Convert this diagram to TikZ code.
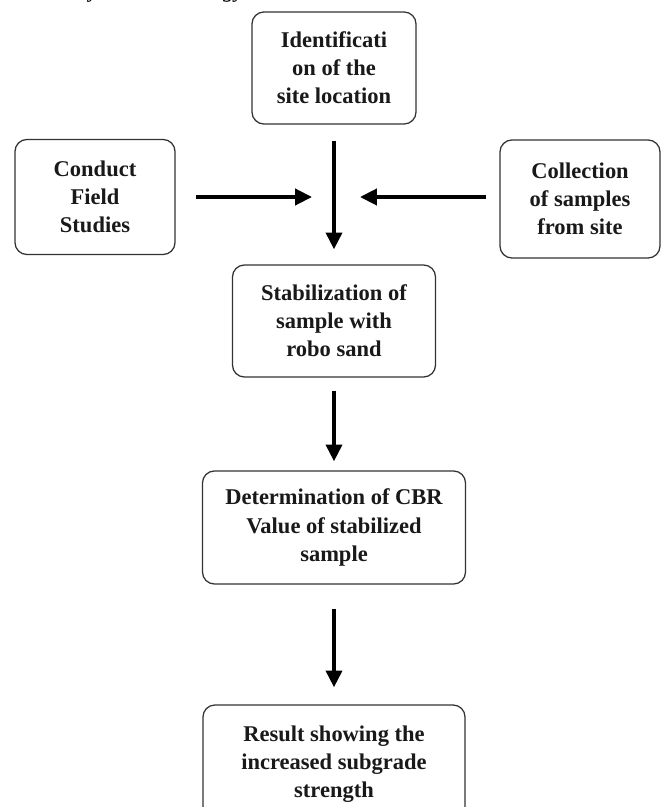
\documentclass[tikz,border=0pt]{standalone}
\usepackage{fontspec}
\setmainfont{Liberation Serif}
\usetikzlibrary{arrows.meta}

\tikzset{
    stage/.style={draw=black!80, line width=0.9pt, rounded corners=0.3cm, align=center, inner sep=0pt, text=black!90, font=\bfseries\fontsize{16}{20}\selectfont},
    flow/.style={line width=2.6pt, -{Triangle[length=0.42cm,width=0.4cm]}},
}

\begin{document}
\begin{tikzpicture}[x=0.025cm, y=-0.025cm]

    % page
    \useasboundingbox (0,0) rectangle (664,807);
    \clip (0,0) rectangle (664,807);
    \fill[white] (0,0) rectangle (664,807);

    % caption, cut by the top edge
    \node[anchor=base west, inner sep=0pt, font=\itshape\fontsize{16}{20}\selectfont] (caption) at (46,-2) {Analysis methodology};

    % identification of the site
    \node[stage, minimum width=4.1cm, minimum height=2.8cm] (ident) at (334,68) {Identificati\\on of the\\site location};

    % field studies
    \node[stage, minimum width=4cm, minimum height=2.875cm] (field) at (95,197) {Conduct\\Field\\Studies};

    % samples from site
    \node[stage, minimum width=4cm, minimum height=2.95cm] (collect) at (580,199) {Collection\\of samples\\from site};

    % stabilization with robo sand
    \node[stage, minimum width=5.075cm, minimum height=2.8cm] (stab) at (334,321) {Stabilization of\\sample with\\robo sand};

    % CBR value
    \node[stage, minimum width=6.575cm, minimum height=2.825cm] (cbr) at (334,527.5) {Determination of CBR\\Value of stabilized\\sample};

    % result
    \node[stage, minimum width=6.55cm, minimum height=2.95cm] (result) at (334,764) {Result showing the\\increased subgrade\\strength};

    %%%%%%%%%%%%%%%%%%%%%%%%%%%%%%%%%%%%%%%%%%%%%%%%%%%%%%

    % point where the side arrows meet the main line
    \coordinate (meet) at (334,197);

    \draw[flow, shorten <=0.4cm, shorten >=0.375cm] (ident) -- (stab);
    \draw[flow, shorten <=0.5cm, shorten >=0.55cm] (field.east) -- (meet);
    \draw[flow, shorten <=0.325cm, shorten >=0.65cm] (collect.west |- meet) -- (meet);
    \draw[flow, shorten <=0.325cm, shorten >=0.225cm] (stab) -- (cbr);
    \draw[flow, shorten <=0.6cm, shorten >=0.425cm] (cbr) -- (result);

\end{tikzpicture}
\end{document}
